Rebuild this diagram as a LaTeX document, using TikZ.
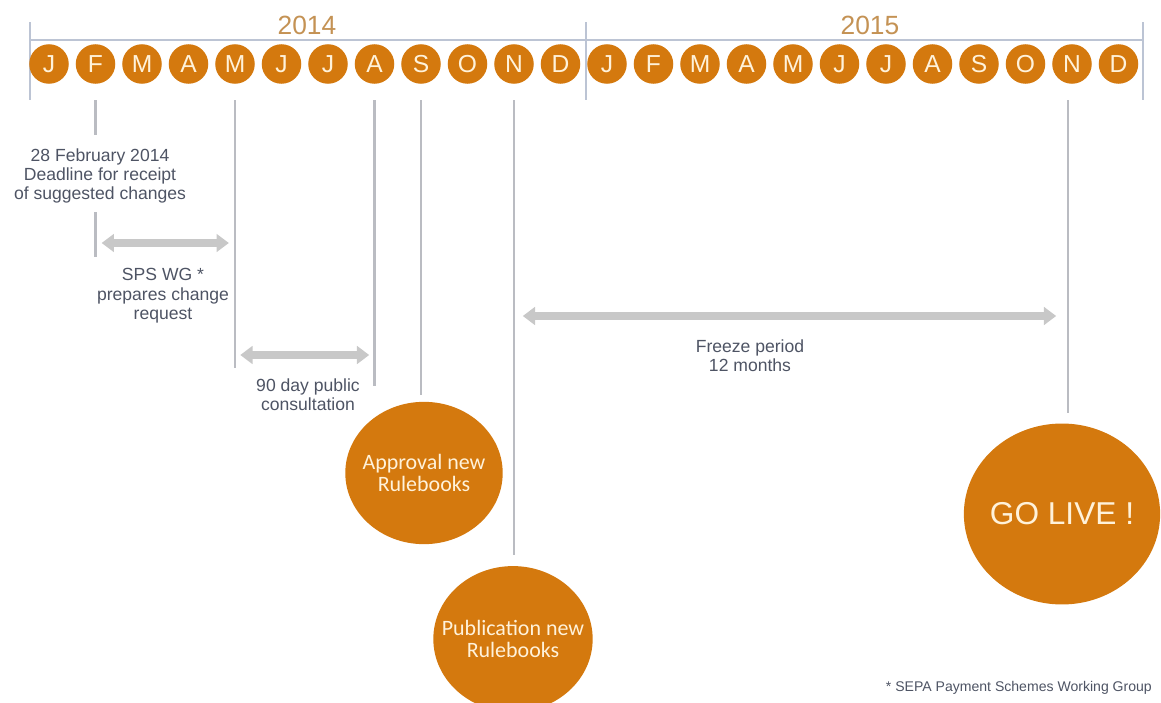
\documentclass[tikz,border=0pt]{standalone}
\usepackage{fontspec}
\setmainfont{Liberation Sans}
\newfontfamily\carlito{Carlito}
\usetikzlibrary{arrows.meta,shapes.geometric,positioning}
\definecolor{sepaorange}{RGB}{212, 121, 14}
\definecolor{sepacream}{RGB}{255, 242, 218}
\definecolor{sepatan}{RGB}{196, 146, 84}
\definecolor{sepagray}{RGB}{186, 188, 194}
\definecolor{sepaarrow}{RGB}{200, 200, 200}
\definecolor{sepatext}{RGB}{78, 84, 100}
\definecolor{sepaaxis}{RGB}{188, 196, 212}

\tikzset{
  month/.style={circle, fill=sepaorange, minimum size=22.5pt, inner sep=0pt,
    text=sepacream, font=\fontsize{14}{14}\selectfont},
  vline/.style={draw=sepagray, line width=1.2pt},
  span/.style={draw=sepaarrow, line width=4.5pt,
    {Triangle[width=10pt,length=7pt]}-{Triangle[width=10pt,length=7pt]}},
  note/.style={text=sepatext, align=center, font=\fontsize{10}{11}\selectfont},
  event/.style={ellipse, fill=sepaorange, inner sep=0pt},
  eventtext/.style={text=sepacream, align=center, inner sep=0pt},
}

\begin{document}
\begin{tikzpicture}[x=0.02cm, y=-0.02cm]
        \useasboundingbox (0,0) rectangle (1161,703);

        % Years
        \draw[sepaaxis, line width=0.8pt] (30,40) -- (1143,40);
        \draw[sepaaxis, line width=1pt] (30,22) -- (30,100);
        \draw[sepaaxis, line width=1pt] (586,22) -- (586,100);
        \draw[sepaaxis, line width=1pt] (1143,22) -- (1143,100);
        \node[text=sepatan, font=\fontsize{15}{15}\selectfont] (y2014) at (307,25) {2014};
        \node[text=sepatan, font=\fontsize{15}{15}\selectfont] (y2015) at (870,25) {2015};

        % Months
        \foreach \m [count=\i from 0] in {J,F,M,A,M,J,J,A,S,O,N,D,J,F,M,A,M,J,J,A,S,O,N,D}
            \node[month] (m\i) at ({49+46.5*\i},64) {\m};

        \coordinate (top) at (0,100);

        % Milestone lines
        \draw[vline] (m1 |- top) -- ++(0,35);
        \draw[vline] (m1 |- top) ++(0,112) -- ++(0,45);
        \draw[vline] (m4 |- top) -- ++(0,268);
        \draw[vline] (m7 |- top) -- ++(0,286);
        \draw[vline] (m8 |- top) -- ++(0,295);
        \draw[vline] (m10 |- top) -- ++(0,455);
        \draw[vline] ([xshift=-2.5pt]m22 |- top) -- ++(0,313);

        % Periods
        \draw[span, shorten <=3.5pt, shorten >=3.5pt] (m1 |- 0,243) -- (m4 |- 0,243);
        \draw[span, shorten <=3pt, shorten >=3pt] (m4 |- 0,355) -- (m7 |- 0,355);
        \draw[span, shorten <=5pt, shorten >=9pt] (m10 |- 0,316) -- (m22 |- 0,316);

        % Notes
        \node[note] (deadline) at (100,176) {28 February 2014\\Deadline for receipt\\of suggested changes};
        \node[note] (spswg) at (163,296) {SPS WG *\\prepares change\\request};
        \node[note] (consult) at (308,395) {90 day public\\consultation};
        \node[note] (freeze) at (750,356) {Freeze period\\12 months};

        % Events
        \node[event, minimum width=89.6pt, minimum height=81pt] (approval) at (424,473) {};
        \node[eventtext, font=\carlito\fontsize{12.5}{13}\selectfont] (approvaltext) at (approval) {Approval new\\Rulebooks};
        \node[event, minimum width=90.7pt, minimum height=83pt] (publication) at (513,639) {};
        \node[eventtext, font=\carlito\fontsize{12.5}{13}\selectfont] (publicationtext) at (publication) {Publication new\\Rulebooks};
        \node[event, minimum width=111.7pt, minimum height=103pt] (golive) at (1062,514) {};
        \node[eventtext, font=\fontsize{18}{18}\selectfont] (golivetext) at (golive) {GO LIVE !};

        % Footnote
        \node[note, anchor=east, font=\fontsize{8}{9}\selectfont] (foot) at (1158,688) {* SEPA Payment Schemes Working Group};
    \end{tikzpicture}
\end{document}
